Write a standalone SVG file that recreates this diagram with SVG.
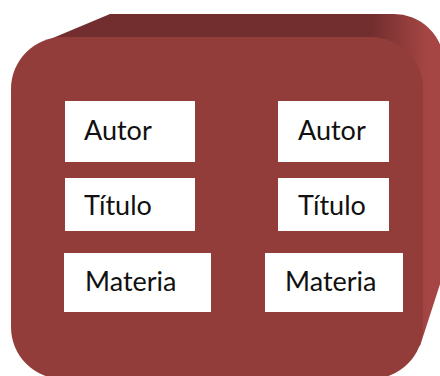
<svg xmlns="http://www.w3.org/2000/svg" width="440" height="376" viewBox="0 0 440 376">
  <defs>
    <linearGradient id="sideGrad" gradientUnits="userSpaceOnUse" x1="372" y1="0" x2="428" y2="0">
      <stop offset="0" stop-color="#722E2E"/>
      <stop offset="1" stop-color="#A64644"/>
    </linearGradient>
  </defs>
  <style>
    .box { fill: #FFFFFF; }
    .lbl { font-family: Lato, "Open Sans", "Liberation Sans", sans-serif; font-size: 27px; fill: #111111; }
  </style>
  <rect width="440" height="376" fill="#FFFFFF"/>
  <g id="cube">
    <path d="M 48,40 L 110,14 L 392,14 A 50 50 0 0 1 444 64 L 444 272 L 420 346 L 60 346 Z" fill="url(#sideGrad)"/>
    <rect x="11" y="37" width="412" height="342" rx="52" ry="52" fill="#933D3B"/>
  </g>
  <g id="autor-1">
    <rect class="box" x="65" y="101" width="130" height="61"/>
    <text class="lbl" x="84" y="140">Autor</text>
  </g>
  <g id="titulo-1">
    <rect class="box" x="65" y="178" width="130" height="53"/>
    <text class="lbl" x="84" y="215">Título</text>
  </g>
  <g id="materia-1">
    <rect class="box" x="64" y="253" width="147" height="59"/>
    <text class="lbl" x="85" y="291">Materia</text>
  </g>
  <g id="autor-2">
    <rect class="box" x="278" y="101" width="111" height="61"/>
    <text class="lbl" x="298" y="140">Autor</text>
  </g>
  <g id="titulo-2">
    <rect class="box" x="278" y="178" width="111" height="53"/>
    <text class="lbl" x="298" y="215">Título</text>
  </g>
  <g id="materia-2">
    <rect class="box" x="265" y="253" width="138" height="59"/>
    <text class="lbl" x="285" y="291">Materia</text>
  </g>
  <g id="connectors"></g>
</svg>
